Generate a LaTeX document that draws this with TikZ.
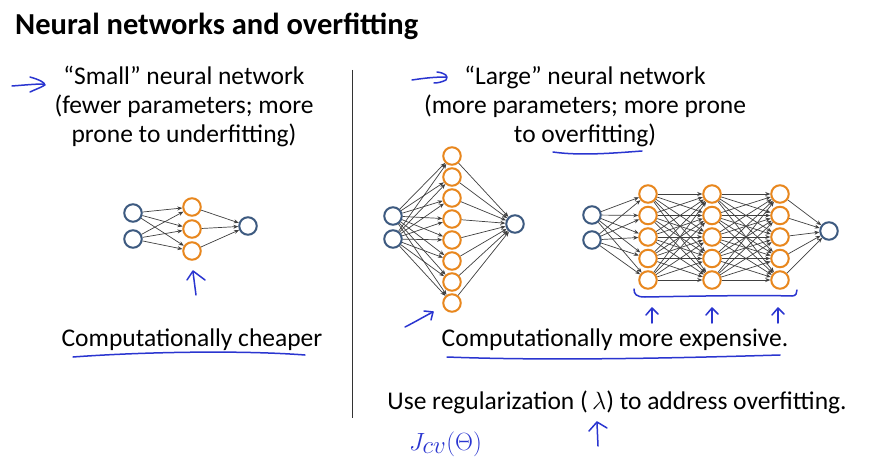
\documentclass[tikz,border=0pt]{standalone}
\usepackage{fontspec}
\setmainfont{Carlito}
\usetikzlibrary{arrows.meta}
\definecolor{inblue}{HTML}{3D5A80}
\definecolor{hidorange}{HTML}{E8871E}
\definecolor{pen}{HTML}{2A35D0}
\definecolor{edgegray}{HTML}{404040}
\tikzset{
  inunit/.style={circle,draw=inblue,line width=2pt,minimum size=17.5pt,inner sep=0pt},
  hidunit/.style={circle,draw=hidorange,line width=2pt,minimum size=17.5pt,inner sep=0pt},
  edge/.style={draw=edgegray,line width=0.7pt,-{Stealth[length=5pt,width=4pt]}},
  bodytext/.style={font=\fontsize{25.5}{29}\selectfont,align=center,inner sep=0pt},
  ink/.style={draw=pen,line width=1.5pt,line cap=round,line join=round},
}
\begin{document}
\begin{tikzpicture}[x=1pt,y=-1pt]
\useasboundingbox (0,0) rectangle (869,465);
\fill[white] (0,0) rectangle (869,465);
% title
\node[anchor=west,font=\fontsize{30.5}{34}\selectfont\bfseries,inner sep=0pt] (title) at (15,26) {Neural networks and overfitting};
% divider
\coordinate (dtop) at (352,70);
\coordinate (dbot) at (352,418);
\draw[line width=0.8pt,black!80] (dtop) -- (dbot);
% texts
\node[bodytext] (ltext) at (184,106) {``Small'' neural network\\(fewer parameters; more\\prone to underfitting)};
\node[bodytext] (rtext) at (585,106) {``Large'' neural network\\(more parameters; more prone\\to overfitting)};
\node[bodytext] (cheap) at (192,340) {Computationally cheaper};
\node[bodytext] (expensive) at (615,340) {Computationally more expensive.};
\node[bodytext] (reg) at (617,402) {Use regularization (\,$\lambda$) to address overfitting.};

% small network
\node[inunit] (s-i1) at (133,213) {};
\node[inunit] (s-i2) at (133,239) {};
\foreach \k/\y in {1/207,2/229,3/251} \node[hidunit] (s-h\k) at (192,\y) {};
\node[inunit] (s-o) at (248,226) {};
\foreach \i in {1,2} \foreach \k in {1,2,3} \draw[edge] (s-i\i) -- (s-h\k);
\foreach \k in {1,2,3} \draw[edge] (s-h\k) -- (s-o);

% large network 1
\node[inunit] (a-i1) at (393,216) {};
\node[inunit] (a-i2) at (393,239) {};
\foreach \k in {1,...,8} \node[hidunit] (a-h\k) at (452,{156+21*(\k-1)}) {};
\node[inunit] (a-o) at (515,224) {};
\foreach \i in {1,2} \foreach \k in {1,...,8} \draw[edge] (a-i\i) -- (a-h\k);
\foreach \k in {1,...,8} \draw[edge] (a-h\k) -- (a-o);

% large network 2
\node[inunit] (b-i1) at (592,215) {};
\node[inunit] (b-i2) at (592,240) {};
\foreach \L/\x in {p/648,q/712,r/780}
  \foreach \k in {1,...,5} \node[hidunit] (b-\L\k) at (\x,{194+21.5*(\k-1)}) {};
\node[inunit] (b-o) at (829,231) {};
\foreach \i in {1,2} \foreach \k in {1,...,5} \draw[edge] (b-i\i) -- (b-p\k);
\foreach \j in {1,...,5} \foreach \k in {1,...,5} \draw[edge] (b-p\j) -- (b-q\k);
\foreach \j in {1,...,5} \foreach \k in {1,...,5} \draw[edge] (b-q\j) -- (b-r\k);
\foreach \k in {1,...,5} \draw[edge] (b-r\k) -- (b-o);

% handwritten annotations
\draw[ink] (12,86) .. controls (25,85) and (35,84) .. (44,84);
\draw[ink] (30,77) .. controls (40,80) and (44,82) .. (45,85) .. controls (40,88) and (34,90) .. (30,92);
\draw[ink] (412,80) .. controls (425,78) and (435,77) .. (446,77);
\draw[ink] (437,72) .. controls (445,73) and (449,76) .. (446,80) .. controls (442,82) and (438,83) .. (434,83);
\draw[ink] (553,152) .. controls (580,156) and (615,153) .. (642,151);
\draw[ink] (196,295) -- (193,272);
\draw[ink] (187,280) -- (193,271) -- (205,280);
\draw[ink] (73,357) .. controls (140,352) and (240,350) .. (305,355);
\draw[ink] (405,327) .. controls (415,322) and (425,316) .. (433,312);
\draw[ink] (424,311) -- (433,312) -- (431,320);
\draw[ink] (634,289) .. controls (634,294) and (636,297) .. (645,297) .. controls (700,296) and (760,295) .. (792,296) .. controls (796,296) and (797,293) .. (797,290);
\foreach \x in {652,712,778} {
  \draw[ink] (\x,323) -- (\x,309);
  \draw[ink] (\x-6,315) -- (\x,308) -- (\x+6,314);
}
\draw[ink] (447,357) .. controls (550,361) and (680,358) .. (780,355);
\draw[ink] (598,446) -- (597,423);
\draw[ink] (589,431) -- (597,422) -- (607,428);
\node[text=pen,anchor=west,inner sep=0pt,font=\fontsize{34}{36}\selectfont] (jcv) at (409,444) {$J_{cv}(\Theta)$};
\end{tikzpicture}
\end{document}
